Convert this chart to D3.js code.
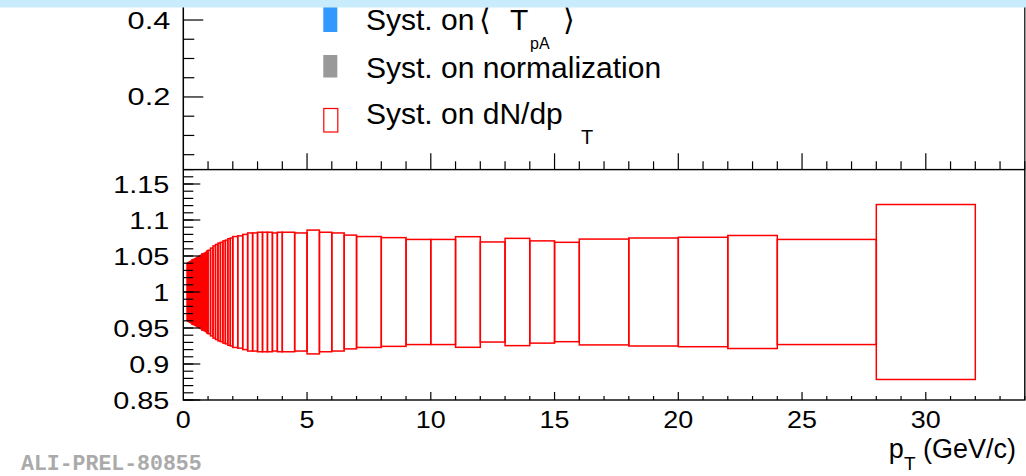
<!DOCTYPE html>
<html>
<head>
<meta charset="utf-8">
<script src="https://cdn.jsdelivr.net/npm/d3@7"></script>
<style>
  html, body { margin: 0; padding: 0; background: #fff; }
  svg { display: block; font-family: "Liberation Sans", Arial, Helvetica, sans-serif; }
</style>
</head>
<body>
<svg id="chart" width="1026" height="476"></svg>
<script>
// pT bin edges (GeV/c) and relative systematic uncertainty on dN/dpT per bin
const binEdges = [0.15, 0.2, 0.25, 0.3, 0.35, 0.4, 0.45, 0.5, 0.55, 0.6, 0.65, 0.7, 0.75, 0.8, 0.85, 0.9, 0.95, 1.0,
  1.1, 1.2, 1.3, 1.4, 1.5, 1.6, 1.7, 1.8, 1.9, 2.0,
  2.2, 2.4, 2.6, 2.8, 3.0, 3.2, 3.4, 3.6, 3.8, 4.0,
  4.5, 5.0, 5.5, 6.0, 6.5, 7,
  8, 9, 10, 11, 12, 13, 14, 15, 16,
  18, 20, 22, 24, 28, 32]
const systErr = [0.040, 0.041, 0.042, 0.043, 0.045, 0.045, 0.046, 0.047, 0.048, 0.049, 0.050, 0.051, 0.053, 0.053, 0.054, 0.055, 0.057,
  0.058, 0.061, 0.064, 0.066, 0.068, 0.069, 0.071, 0.072, 0.074, 0.075,
  0.077, 0.078, 0.080, 0.082, 0.082, 0.083, 0.083, 0.083, 0.082, 0.083,
  0.083, 0.082, 0.086, 0.083, 0.082, 0.079,
  0.077, 0.0755, 0.073, 0.073, 0.0768, 0.0695, 0.0745, 0.071, 0.069,
  0.0735, 0.075, 0.076, 0.0785, 0.073, 0.1215]
const centralValue = 1

const xTicksMajor = [0, 5, 10, 15, 20, 25, 30]
const xTicksMinor = d3.range(0, 35, 1)
const upperYMajor = [0.2, 0.4]
const upperYMinor = [0.05, 0.1, 0.15, 0.25, 0.3, 0.35, 0.45]
const lowerYMajor = [0.85, 0.9, 0.95, 1, 1.05, 1.1, 1.15]
const lowerYLabels = ['0.85', '0.9', '0.95', '1', '1.05', '1.1', '1.15']
const lowerYMinor = d3.range(85, 118).map(v => v / 100)

const legendLabels = ['Syst. on', 'Syst. on normalization', 'Syst. on dN/dp']
const legendColors = ['#3399ff', '#999999', '#ff0000']

const svg = d3.select('#chart')
const W = 1026

const x = d3.scaleLinear().domain([0, 34]).range([183.3, 1024.8])
const yUp = d3.scaleLinear().domain([0.012, 0.452]).range([169.3, 0])
const yLow = d3.scaleLinear().domain([0.85, 1.17]).range([400, 169.6])

const black = '#000'

// Upper pad frame
const up = svg.append('g')
up.append('line').attr('x1', x(0)).attr('x2', x(0)).attr('y1', 0).attr('y2', yUp(0.012))
  .attr('stroke', black).attr('stroke-width', 1.5)
up.append('line').attr('x1', x(34)).attr('x2', x(34)).attr('y1', 0).attr('y2', yUp(0.012))
  .attr('stroke', black).attr('stroke-width', 1.2)

// upper y ticks
up.selectAll('line.ymaj').data(upperYMajor).join('line')
  .attr('x1', x(0)).attr('x2', x(0) + 20).attr('y1', d => yUp(d)).attr('y2', d => yUp(d))
  .attr('stroke', black).attr('stroke-width', 1.2)
up.selectAll('line.ymin').data(upperYMinor).join('line')
  .attr('x1', x(0)).attr('x2', x(0) + 11).attr('y1', d => yUp(d)).attr('y2', d => yUp(d))
  .attr('stroke', black).attr('stroke-width', 1.2)
up.selectAll('text.ylab').data(upperYMajor).join('text')
  .attr('transform', d => `translate(${x(0) - 13},${yUp(d) + 8.5}) scale(1.28,1)`)
  .attr('text-anchor', 'end').style('font-size', '24px').text(d => d.toFixed(1))

// upper x ticks along the bottom of the upper pad
up.selectAll('line.xt').data(xTicksMinor.filter(d => d > 0)).join('line')
  .attr('x1', d => x(d)).attr('x2', d => x(d))
  .attr('y1', yUp(0.012)).attr('y2', d => yUp(0.012) - (d % 5 === 0 ? 16 : 8))
  .attr('stroke', black).attr('stroke-width', 1.2)

// Lower pad
const low = svg.append('g')

// systematic boxes
const bins = systErr.map((e, i) => ({ lo: binEdges[i], hi: binEdges[i + 1], e }))
low.selectAll('rect.box').data(bins).join('rect')
  .attr('x', d => x(d.lo))
  .attr('width', d => x(d.hi) - x(d.lo))
  .attr('y', d => yLow(centralValue + d.e))
  .attr('height', d => yLow(centralValue - d.e) - yLow(centralValue + d.e))
  .attr('fill', 'none').attr('stroke', '#ff0000').attr('stroke-width', 1.5)

// frame
low.append('rect').attr('x', x(0)).attr('y', yLow(1.17)).attr('width', x(34) - x(0)).attr('height', yLow(0.85) - yLow(1.17))
  .attr('fill', 'none').attr('stroke', black).attr('stroke-width', 1.4)

low.selectAll('line.ymin').data(lowerYMinor).join('line')
  .attr('x1', x(0)).attr('x2', x(0) + 10).attr('y1', d => yLow(d)).attr('y2', d => yLow(d))
  .attr('stroke', black).attr('stroke-width', 1.2)
low.selectAll('line.ymaj').data(lowerYMajor).join('line')
  .attr('x1', x(0)).attr('x2', x(0) + 17).attr('y1', d => yLow(d)).attr('y2', d => yLow(d))
  .attr('stroke', black).attr('stroke-width', 1.2)
low.selectAll('text.ylab').data(lowerYMajor).join('text')
  .attr('transform', d => `translate(${x(0) - 14},${yLow(d) + 8.5}) scale(1.2,1)`)
  .attr('text-anchor', 'end').style('font-size', '24px').text((d, i) => lowerYLabels[i])

low.selectAll('line.xt').data(xTicksMinor.filter(d => d > 0)).join('line')
  .attr('x1', d => x(d)).attr('x2', d => x(d))
  .attr('y1', yLow(0.85)).attr('y2', d => yLow(0.85) - (d % 5 === 0 ? 8 : 4))
  .attr('stroke', black).attr('stroke-width', 1.2)
low.selectAll('text.xlab').data(xTicksMajor).join('text')
  .attr('transform', d => `translate(${x(d)},428) scale(1.12,1)`)
  .attr('text-anchor', 'middle').style('font-size', '24px').text(d => d)

// x axis title
const xt = low.append('text').attr('x', 1016).attr('y', 458).attr('text-anchor', 'end').style('font-size', '27px')
xt.append('tspan').text('p')
xt.append('tspan').attr('dy', 12).style('font-size', '19px').text('T')
xt.append('tspan').attr('dy', -12).text(' (GeV/c)')

// Legend
const lg = svg.append('g')
const rowY = [7, 55, 108]
lg.selectAll('rect.mk').data(legendColors).join('rect')
  .attr('x', (d, i) => i === 2 ? 323.8 : 323.3)
  .attr('y', (d, i) => rowY[i] + (i === 2 ? 0.5 : 0))
  .attr('width', 14)
  .attr('height', (d, i) => i === 2 ? 23.5 : (i === 0 ? 25 : 22.5))
  .attr('fill', (d, i) => i === 2 ? '#fff' : d)
  .attr('stroke', (d, i) => i === 2 ? d : 'none')
  .attr('stroke-width', 1.2)

const baseY = [30, 77.5, 123.5]
const t0 = lg.append('text').attr('x', 366).attr('y', baseY[0]).style('font-size', '30px')
t0.append('tspan').text(legendLabels[0])
t0.append('tspan').attr('x', 479).text('\u27E8')
t0.append('tspan').attr('x', 510).text('T')
t0.append('tspan').attr('x', 530).attr('dy', 19).style('font-size', '16px').text('pA')
t0.append('tspan').attr('x', 563).attr('dy', -19).text('\u27E9')
lg.append('text').attr('x', 366).attr('y', baseY[1]).style('font-size', '30px').text(legendLabels[1])
const t2 = lg.append('text').attr('x', 366).attr('y', baseY[2]).style('font-size', '30px')
t2.append('tspan').text(legendLabels[2])
t2.append('tspan').attr('x', 581).attr('dy', 20.5).style('font-size', '20px').text('T')

// preliminary tag
svg.append('text').attr('x', 21).attr('y', 470)
  .style('font-family', '"Liberation Mono", "DejaVu Sans Mono", monospace')
  .style('font-weight', 'bold').style('font-size', '21.5px').attr('fill', '#aaaaaa')
  .text('ALI-PREL-80855')

// light blue band along the top edge
svg.append('rect').attr('x', 0).attr('y', 0).attr('width', W).attr('height', 7.5).attr('fill', '#c8ecfc')
</script>
</body>
</html>
